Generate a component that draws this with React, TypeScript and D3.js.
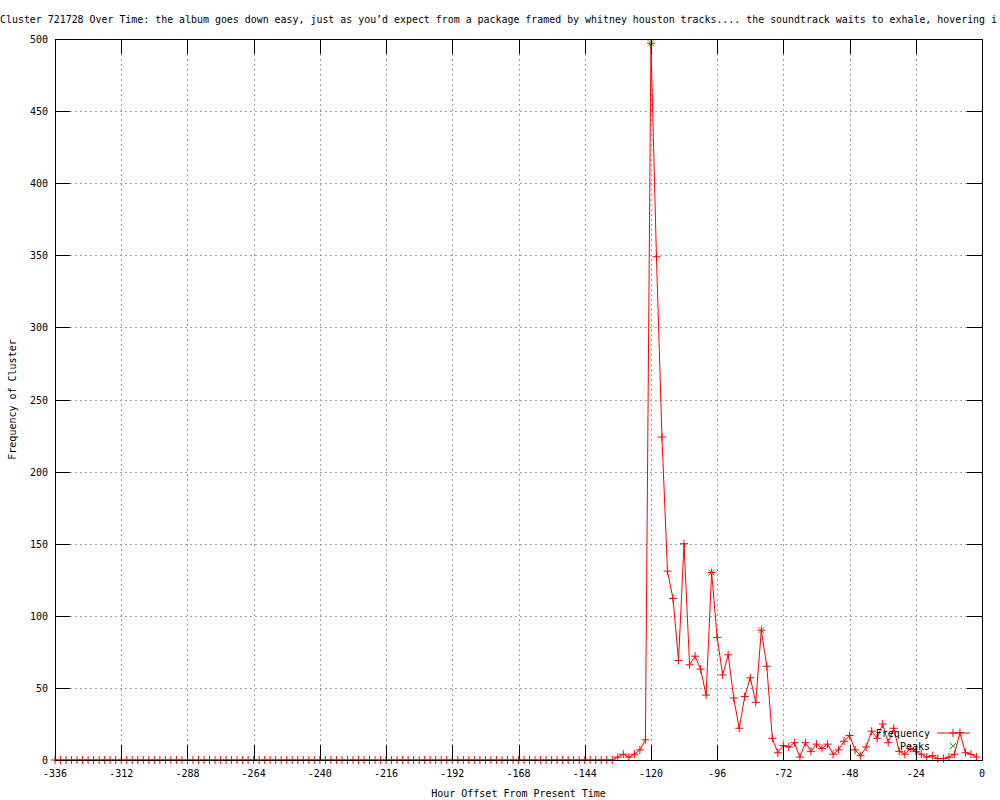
import React from 'react';
import * as d3 from 'd3';

const TITLE = "Cluster 721728 Over Time: the album goes down easy, just as you\u2019d expect from a package framed by whitney houston tracks.... the soundtrack waits to exhale, hovering i";
const X_LABEL = 'Hour Offset From Present Time';
const Y_LABEL = 'Frequency of Cluster';

const X_TICKS = [-336, -312, -288, -264, -240, -216, -192, -168, -144, -120, -96, -72, -48, -24, 0];
const Y_TICKS = [0, 50, 100, 150, 200, 250, 300, 350, 400, 450, 500];

// hours with zero frequency: -336 .. -134 (every 2 h)
const ZERO_HOURS = d3.range(-336, -133, 2);
const ACTIVE_HOURS = [
  -132, -130, -128, -126, -124, -122, -120, -118, -116, -114, -112, -110, -108, -106, -104, -102,
  -100, -98, -96, -94, -92, -90, -88, -86, -84, -82, -80, -78, -76, -74, -72, -70,
  -68, -66, -64, -62, -60, -58, -56, -54, -52, -50, -48, -46, -44, -42, -40, -38,
  -36, -34, -32, -30, -28, -26, -24, -22, -20, -18, -16, -14, -12, -10, -8, -6, -4, -2,
];
const ACTIVE_VALUES = [
  2, 4, 2, 4, 7, 14, 497, 349, 224, 131, 112, 69, 150, 66, 72, 63,
  45, 130, 85, 59, 73, 43, 22, 44, 57, 40, 90, 65, 15, 5, 10, 9,
  12, 2, 12, 6, 11, 8, 11, 4, 7, 13, 17, 7, 3, 9, 20, 15,
  25, 12, 22, 6, 4, 8, 6, 4, 2, 3, 1, 1, 2, 4, 19, 5, 4, 2,
];

const PEAK_HOURS = [-120, -98, -80];
const PEAK_VALUES = [497, 130, 90];

const FONT = '"DejaVu Sans Mono", "Liberation Mono", monospace';

export default function App() {
  const W = 1000, H = 800;
  const left = 55, right = 982, top = 39, bottom = 760;
  const x = d3.scaleLinear().domain([-336, 0]).range([left, right]);
  const y = d3.scaleLinear().domain([0, 500]).range([bottom, top]);

  const freq: [number, number][] = [
    ...ZERO_HOURS.map((h) => [h, 0] as [number, number]),
    ...ACTIVE_HOURS.map((h, i) => [h, ACTIVE_VALUES[i]] as [number, number]),
  ];
  const peaks: [number, number][] = PEAK_HOURS.map((h, i) => [h, PEAK_VALUES[i]]);

  const line = d3.line<[number, number]>().x((d) => x(d[0])).y((d) => y(d[1]));
  const tick = 15;
  const ms = 4;

  const plus = (cx: number, cy: number, color: string, key: string) => (
    <path key={key} d={`M${cx - ms},${cy}H${cx + ms}M${cx},${cy - ms}V${cy + ms}`} stroke={color} strokeWidth={1} fill="none" />
  );
  const cross = (cx: number, cy: number, color: string, key: string) => (
    <path key={key} d={`M${cx - 3},${cy - 3}L${cx + 3},${cy + 3}M${cx - 3},${cy + 3}L${cx + 3},${cy - 3}`} stroke={color} strokeWidth={1} fill="none" />
  );

  return (
    <svg width={W} height={H} style={{ position: 'absolute', left: 0, top: 0, background: '#fff' }} fontFamily={FONT} fontSize={10}>
      <rect x={0} y={0} width={W} height={H} fill="#fff" />
      {/* grid */}
      <g stroke="#a0a0a0" strokeWidth={1} strokeDasharray="2,3" shapeRendering="crispEdges">
        {X_TICKS.slice(1, -1).map((t) => (
          <line key={'gx' + t} x1={Math.round(x(t)) + 0.5} x2={Math.round(x(t)) + 0.5} y1={top + tick} y2={bottom - tick} />
        ))}
        {Y_TICKS.slice(1, -1).map((t) => (
          <line key={'gy' + t} x1={left + tick} x2={right - tick} y1={Math.round(y(t)) + 0.5} y2={Math.round(y(t)) + 0.5} />
        ))}
      </g>
      {/* data line */}
      <path d={line(freq) || ''} fill="none" stroke="#ff0000" strokeWidth={1} />
      <g>{freq.map((d, i) => plus(x(d[0]), y(d[1]), '#ff0000', 'p' + i))}</g>
      <g>{peaks.map((d, i) => cross(x(d[0]), y(d[1]), '#00c000', 'k' + i))}</g>
      {/* border and ticks */}
      <g stroke="#000" strokeWidth={1} shapeRendering="crispEdges" fill="none">
        <rect x={left + 0.5} y={top + 0.5} width={right - left} height={bottom - top} />
        {X_TICKS.map((t) => (
          <g key={'tx' + t}>
            <line x1={Math.round(x(t)) + 0.5} x2={Math.round(x(t)) + 0.5} y1={bottom} y2={bottom - tick} />
            <line x1={Math.round(x(t)) + 0.5} x2={Math.round(x(t)) + 0.5} y1={top} y2={top + tick} />
          </g>
        ))}
        {Y_TICKS.map((t) => (
          <g key={'ty' + t}>
            <line x1={left} x2={left + tick} y1={Math.round(y(t)) + 0.5} y2={Math.round(y(t)) + 0.5} />
            <line x1={right} x2={right - tick} y1={Math.round(y(t)) + 0.5} y2={Math.round(y(t)) + 0.5} />
          </g>
        ))}
      </g>
      {/* tick labels */}
      <g fill="#000">
        {X_TICKS.map((t) => (
          <text key={'lx' + t} x={x(t)} y={777} textAnchor="middle">{t}</text>
        ))}
        {Y_TICKS.map((t) => (
          <text key={'ly' + t} x={48} y={y(t) + 4} textAnchor="end">{t}</text>
        ))}
      </g>
      {/* axis labels */}
      <text x={(left + right) / 2} y={797} textAnchor="middle">{X_LABEL}</text>
      <text transform={`translate(16,${(top + bottom) / 2}) rotate(-90)`} textAnchor="middle">{Y_LABEL}</text>
      {/* title */}
      <text x={0} y={23} textLength={997} lengthAdjust="spacingAndGlyphs">{TITLE}</text>
      {/* legend */}
      <text x={930} y={737} textAnchor="end">Frequency</text>
      <line x1={937} x2={970} y1={733} y2={733} stroke="#ff0000" strokeWidth={1} />
      {plus(953, 733, '#ff0000', 'lg1')}
      <text x={930} y={750} textAnchor="end">Peaks</text>
      {cross(953, 746, '#00c000', 'lg2')}
    </svg>
  );
}
